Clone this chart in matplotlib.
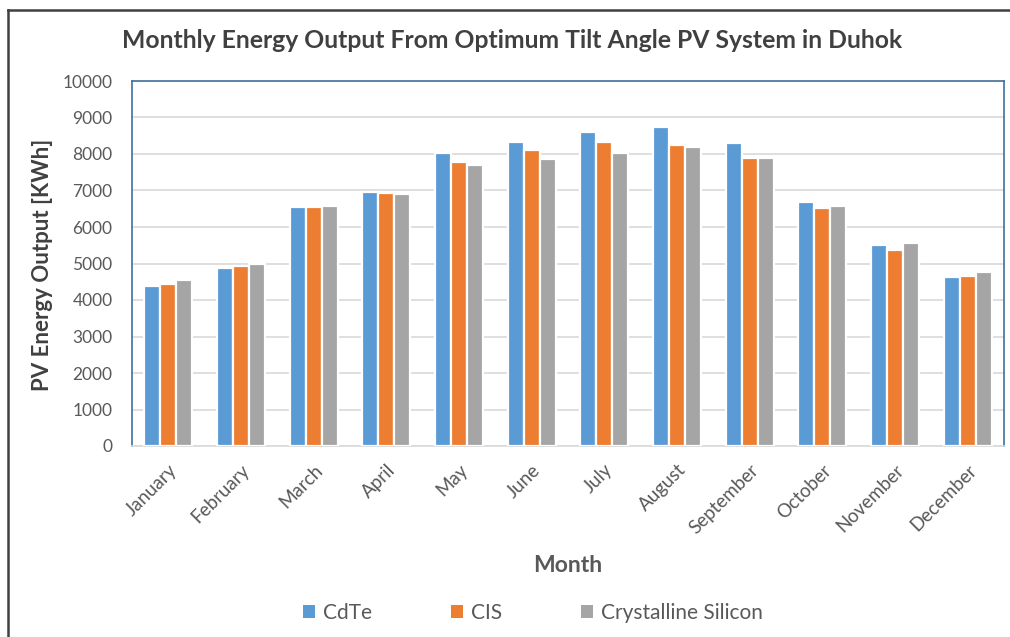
import matplotlib.pyplot as plt
import numpy as np
from matplotlib.lines import Line2D

months = ['January', 'February', 'March', 'April', 'May', 'June',
          'July', 'August', 'September', 'October', 'November', 'December']
cdte = [4370, 4890, 6545, 6970, 8040, 8340, 8590, 8740, 8300, 6680, 5520, 4630]
cis = [4450, 4930, 6545, 6940, 7790, 8120, 8340, 8260, 7900, 6520, 5370, 4670]
csi = [4560, 5000, 6570, 6900, 7710, 7860, 8040, 8190, 7900, 6580, 5560, 4780]
series_names = ['CdTe', 'CIS', 'Crystalline Silicon']
colors = ['#5B9BD5', '#ED7D31', '#A5A5A5']

plt.rcParams['font.family'] = ['Lato', 'DejaVu Sans']

W, H = 1010, 637
fig = plt.figure(figsize=(W / 100, H / 100), dpi=100)
ax = fig.add_axes([132 / W, 191 / H, 872 / W, 365 / H])

x = np.arange(len(months))
step = 0.22
for k, (vals, name, c) in enumerate(zip([cdte, cis, csi], series_names, colors)):
    ax.bar(x + (k - 1) * step, vals, width=step, color=c, label=name,
           edgecolor='white', linewidth=1.6, zorder=3)

ax.set_xlim(-0.5, len(months) - 0.5)
ax.set_ylim(0, 10000)
ax.set_yticks(np.arange(0, 10001, 1000))
ax.yaxis.grid(True, color='#D9D9D9', linewidth=1.2, zorder=0)
ax.tick_params(length=0, labelcolor='#595959')
ax.tick_params(axis='y', labelsize=12.5, pad=14)
ax.set_xticks(x)
ax.set_xticklabels(months, rotation=45, ha='right', rotation_mode='anchor')
ax.tick_params(axis='x', labelsize=13.5, pad=11)

for s in ['top', 'left', 'right']:
    ax.spines[s].set_color('#41719C')
    ax.spines[s].set_linewidth(1.2)
ax.spines['bottom'].set_color('#D9D9D9')
ax.spines['bottom'].set_linewidth(1.2)

# axis titles and chart title placed like the Excel layout
fig.text(43 / W, 1 - 265 / H, 'PV Energy Output [KWh]', rotation=90,
         ha='center', va='center', fontsize=16, fontweight='bold', color='#404040')
fig.text(568 / W, 1 - 566 / H, 'Month', ha='center', va='center',
         fontsize=16.5, fontweight='bold', color='#595959')
fig.text(512 / W, 1 - 40 / H, 'Monthly Energy Output From Optimum Tilt Angle PV System in Duhok',
         ha='center', va='center', fontsize=17.8, fontweight='bold', color='#404040')

leg = fig.legend(loc='center', bbox_to_anchor=(533 / W, 1 - 613 / H), ncol=3, frameon=False,
                 fontsize=15, labelcolor='#595959', handlelength=0.55, handleheight=0.55,
                 handletextpad=0.4, columnspacing=3.8)
for h in leg.legend_handles:
    h.set_linewidth(0)

# outer chart border (left and top only visible)
fig.lines.append(Line2D([8 / W, 8 / W], [0, 1 - 10 / H], transform=fig.transFigure,
                        color='#404040', linewidth=1.8))
fig.lines.append(Line2D([8 / W, 1], [1 - 10 / H, 1 - 10 / H], transform=fig.transFigure,
                        color='#404040', linewidth=1.8))

fig.savefig('out.png', dpi=100)
